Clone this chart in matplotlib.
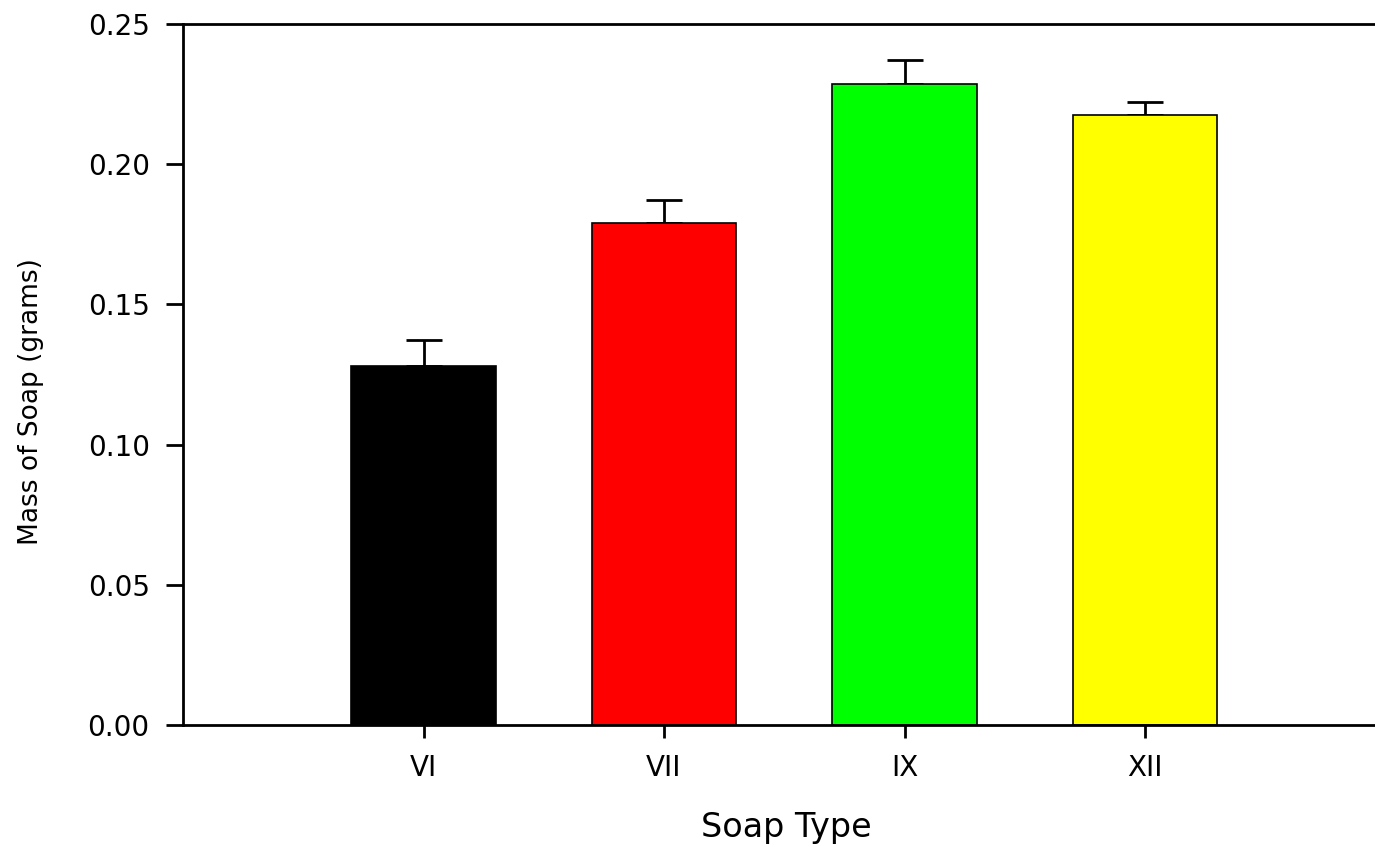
import matplotlib.pyplot as plt

soap_types = ['VI', 'VII', 'IX', 'XII']
mass = [0.128, 0.179, 0.2286, 0.2175]
err = [0.0093, 0.0082, 0.0086, 0.0047]
colors = ['#000000', '#ff0000', '#00ff00', '#ffff00']

plt.rcParams['font.family'] = ['DejaVu Sans']

fig = plt.figure(figsize=(13.75, 8.47), dpi=100)
W, H = 1375, 847
ax_w = W - 183
ax_h = 725 - 24
ax = fig.add_axes([183 / W, 1 - 725 / H, ax_w / W, ax_h / H])

x = [1, 2, 3, 4]
ax.bar(x, mass, width=0.6, color=colors, edgecolor='black', linewidth=1.2, zorder=2)
ax.errorbar(x, mass, yerr=[[0] * 4, err], fmt='none', ecolor='black',
            elinewidth=2, capsize=13, capthick=2, zorder=1)

ax.set_xlim(0, ax_w / 240.5)
ax.set_ylim(0, 0.25)
ax.set_xticks(x)
ax.set_xticklabels(soap_types)
ax.set_yticks([0, 0.05, 0.10, 0.15, 0.20, 0.25])
ax.set_yticklabels(['0.00', '0.05', '0.10', '0.15', '0.20', '0.25'])
ax.tick_params(axis='both', direction='out', width=2, labelsize=20)
ax.tick_params(axis='y', length=12, pad=12)
ax.tick_params(axis='x', length=9, pad=12)

ax.spines['right'].set_visible(False)
for s in ['left', 'bottom', 'top']:
    ax.spines[s].set_linewidth(2)

# axis titles placed where the reference has them
xl = ax.set_xlabel('Soap Type', fontsize=24)
xl.set_va('center')
ax.xaxis.set_label_coords((786 - 183) / ax_w, (725 - 827) / ax_h)

yl = ax.set_ylabel('Mass of Soap (grams)', fontsize=19)
yl.set_va('center')
ax.yaxis.set_label_coords((31 - 183) / ax_w, (725 - 402) / ax_h)

fig.savefig('out.png', dpi=100)
